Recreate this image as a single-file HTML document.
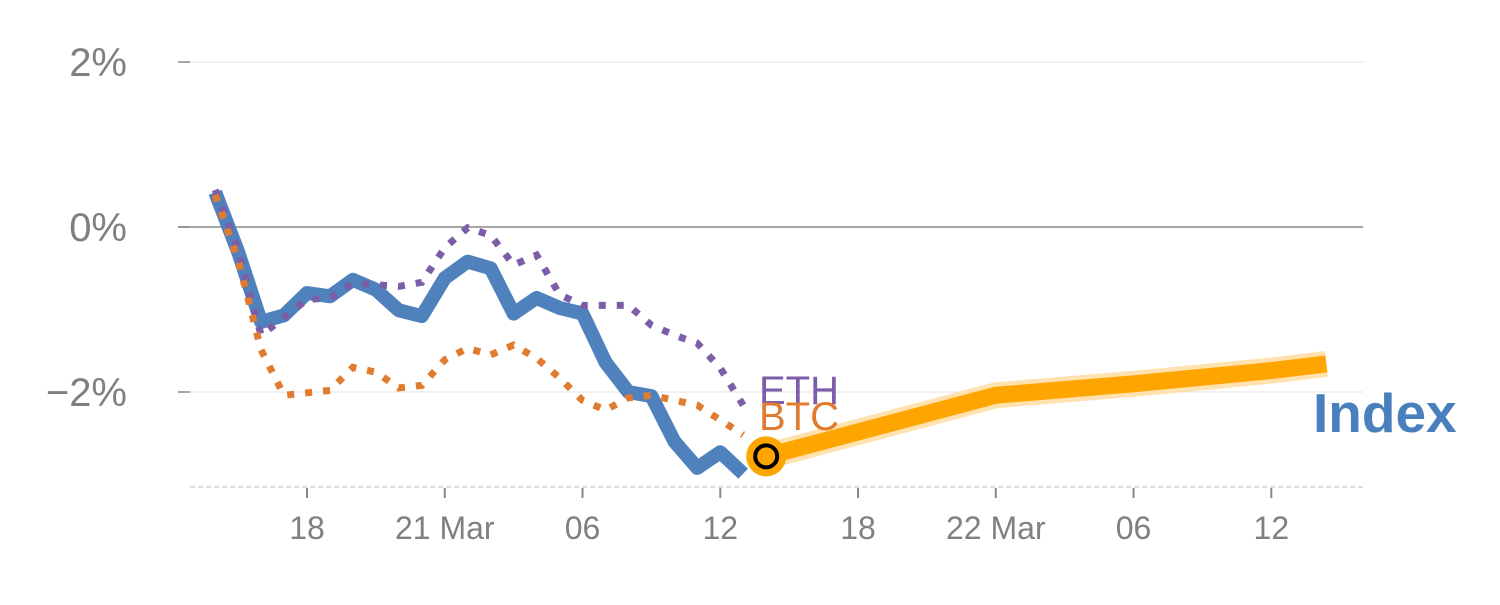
<!DOCTYPE html>
<html><head><meta charset="utf-8"><style>
body{margin:0;background:#fff;}
svg text{font-family:"Liberation Sans",sans-serif;}
</style></head><body>
<svg id="chart" width="1500" height="600" viewBox="0 0 1500 600" xmlns="http://www.w3.org/2000/svg">
<g id="grid"></g><g id="series"></g>
<text x="759" y="404" font-size="40" fill="#7b5ea7">ETH</text>
<text x="759" y="430" font-size="40" fill="#e07b2f">BTC</text>
<text x="1313" y="432" font-size="55" font-weight="bold" fill="#4a7fbd">Index</text>
</svg>
<script>
const hours = [14,15,16,17,18,19,20,21,22,23,24,25,26,27,28,29,30,31,32,33,34,35,36,37];
const indexVals = [0.42,-0.30,-1.15,-1.07,-0.80,-0.84,-0.64,-0.76,-1.01,-1.08,-0.62,-0.42,-0.50,-1.05,-0.86,-0.98,-1.05,-1.64,-2.00,-2.05,-2.60,-2.92,-2.73,-2.99];
const ethVals = [0.45,-0.28,-1.31,-1.10,-0.88,-0.86,-0.68,-0.70,-0.72,-0.67,-0.25,-0.01,-0.10,-0.46,-0.34,-0.82,-0.95,-0.95,-0.95,-1.19,-1.31,-1.41,-1.71,-2.16];
const btcVals = [0.39,-0.40,-1.49,-2.04,-2.01,-1.98,-1.70,-1.76,-1.95,-1.92,-1.61,-1.47,-1.55,-1.43,-1.59,-1.83,-2.10,-2.22,-2.07,-2.04,-2.10,-2.16,-2.34,-2.52];
const fcHours = [38,48,54,60,62.4];
const fcVals = [-2.78,-2.04,-1.90,-1.74,-1.66];
const yTicks = [2,0,-2];
const yTickLabels = ["2%","0%","\u22122%"];
const xTicks = [18,24,30,36,42,48,54,60];
const xTickLabels = ["18","21 Mar","06","12","18","22 Mar","06","12"];
const NS="http://www.w3.org/2000/svg";
const X=h=>307+(h-18)*22.96, Y=v=>227-v*82.5;
function mk(tag,attrs,parent){const e=document.createElementNS(NS,tag);for(const k in attrs)e.setAttribute(k,attrs[k]);parent.appendChild(e);return e;}
const grid=document.getElementById('grid'), ser=document.getElementById('series');
yTicks.forEach((t,i)=>{
  const l=mk('line',{x1:178,x2:1363,y1:Y(t),y2:Y(t),stroke:t===0?'#888':'#e3e3e3','stroke-width':t===0?1.5:1},grid);
  
  
  const tk=mk('line',{x1:178,x2:190,y1:Y(t),y2:Y(t),stroke:'#888','stroke-width':1.5},grid);
  
  
  const tx=mk('text',{x:127,y:Y(t)+14,'font-size':40,fill:'#808080','text-anchor':'end'},grid);
  tx.textContent=yTickLabels[i];
  
  
});
const base=mk('line',{x1:190,x2:1365,y1:487,y2:487,stroke:'#ddd','stroke-width':2,'stroke-dasharray':'5,3'},grid);


xTicks.forEach((h,i)=>{
  const tk=mk('line',{x1:X(h),x2:X(h),y1:488,y2:498,stroke:'#888','stroke-width':2},grid);
  
  
  const tx=mk('text',{x:X(h),y:539,'font-size':32,fill:'#808080','text-anchor':'middle'},grid);
  tx.textContent=xTickLabels[i];
  
  
});
const pts=(hs,vs)=>hs.map((h,i)=>X(h).toFixed(1)+','+Y(vs[i]).toFixed(1)).join(' ');
const idx=mk('polyline',{points:pts(hours,indexVals),fill:'none',stroke:'#4f81bd','stroke-width':14,'stroke-linejoin':'round'},ser);


const eth=mk('polyline',{points:pts(hours,ethVals),fill:'none',stroke:'#7b5ea7','stroke-width':7,'stroke-dasharray':'7,11'},ser);


const btc=mk('polyline',{points:pts(hours,btcVals),fill:'none',stroke:'#e07b2f','stroke-width':7,'stroke-dasharray':'7,11'},ser);


const halo=mk('polyline',{points:pts(fcHours,fcVals),fill:'none',stroke:'#ffe2b0','stroke-width':26},ser);


const fc=mk('polyline',{points:pts(fcHours,fcVals),fill:'none',stroke:'#ffa500','stroke-width':17},ser);


const c1=mk('circle',{cx:X(fcHours[0]),cy:Y(fcVals[0]),r:20,fill:'#ffa500'},ser);


const c2=mk('circle',{cx:X(fcHours[0]),cy:Y(fcVals[0]),r:11,fill:'#ffa500',stroke:'#000','stroke-width':4},ser);


</script>
</body></html>
